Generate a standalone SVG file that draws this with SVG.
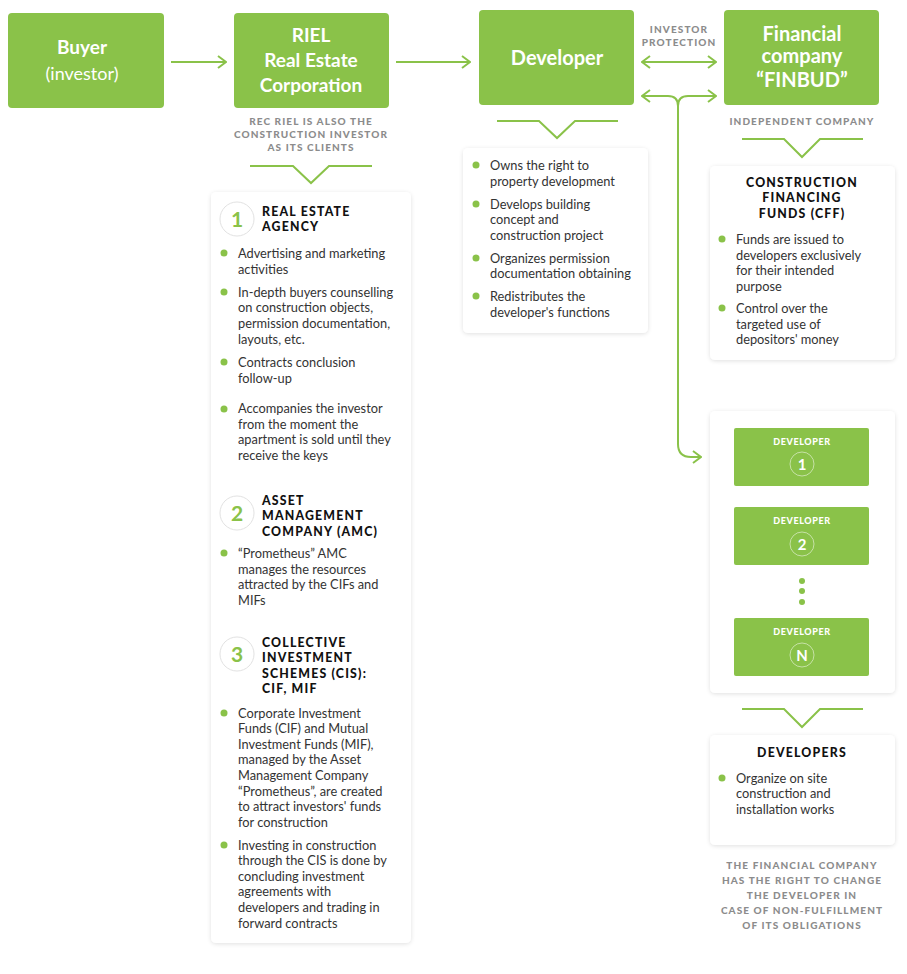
<svg xmlns="http://www.w3.org/2000/svg" width="907" height="974" viewBox="0 0 907 974">
<style>
.box{fill:#8ac249}
.card{fill:#fff;filter:url(#sh)}
.bt{font-family:Lato,"Liberation Sans",sans-serif;font-weight:bold;fill:#fff;text-anchor:middle}
.br{font-family:Lato,"Liberation Sans",sans-serif;fill:#fff;text-anchor:middle}
.note{font-family:Lato,"Liberation Sans",sans-serif;font-weight:900;font-size:10px;letter-spacing:1.1px;fill:#8c8c8c;text-anchor:middle}
.hd{font-family:Lato,"Liberation Sans",sans-serif;font-weight:900;font-size:12.3px;letter-spacing:1.2px;fill:#111}
.tx{font-family:Lato,"Liberation Sans",sans-serif;font-size:12.8px;fill:#333}
.dot{fill:#8ac249}
.num{font-family:Lato,"Liberation Sans",sans-serif;font-weight:bold;font-size:21px;fill:#8ac249;text-anchor:middle}
.nc{fill:#fff;stroke:#e2e2e2;stroke-width:1}
.con{fill:none;stroke:#8ac249;stroke-width:2}
.dv{font-family:Lato,"Liberation Sans",sans-serif;font-weight:900;font-size:9px;letter-spacing:0.6px;fill:#fff;text-anchor:middle}
.dn{font-family:Lato,"Liberation Sans",sans-serif;font-weight:bold;font-size:15px;fill:#fff;text-anchor:middle}
.dc{fill:none;stroke:#fff;stroke-opacity:0.5;stroke-width:1}
</style>
<defs>
<filter id="sh" x="-10%" y="-10%" width="120%" height="120%">
<feDropShadow dx="0" dy="1" stdDeviation="2" flood-color="#000" flood-opacity="0.12"/>
</filter>
<marker id="ah" viewBox="0 0 10 14" refX="9" refY="7" markerWidth="10" markerHeight="14" markerUnits="userSpaceOnUse" orient="auto-start-reverse">
<path d="M1,1 L9,7 L1,13" fill="none" stroke="#8ac249" stroke-width="2"/>
</marker>
</defs>
<rect width="907" height="974" fill="#fff"/>

<g id="connectors">
<line class="con" x1="171" y1="62" x2="226" y2="62" marker-end="url(#ah)"/>
<line class="con" x1="396" y1="62" x2="470" y2="62" marker-end="url(#ah)"/>
<line class="con" x1="642" y1="62" x2="716" y2="62" marker-start="url(#ah)" marker-end="url(#ah)"/>
<path class="con" d="M642,96 H668 Q678,96 678,106" marker-start="url(#ah)"/>
<path class="con" d="M716,96 H688 Q678,96 678,106" marker-start="url(#ah)"/>
<path class="con" d="M678,106 V444 Q678,457 691,457 H701" marker-end="url(#ah)"/>
<polyline class="con" points="250,166 293,166 311,183 329,166 372,166"/>
<polyline class="con" points="497,121 539,121 557,138 575,121 618,121"/>
<polyline class="con" points="742,139 784,139 802,157 820,139 863,139"/>
<polyline class="con" points="742,709 784,709 802,727 820,709 863,709"/>
</g>

<g id="buyer">
<rect class="box" x="8" y="13" width="156" height="95" rx="4"/>
<text class="bt" x="82" y="54" font-size="19">Buyer</text>
<text class="br" x="82" y="80" font-size="18">(investor)</text>
</g>

<g id="riel">
<rect class="box" x="234" y="13" width="155" height="95" rx="4"/>
<text class="bt" x="311" y="42" font-size="19">RIEL</text>
<text class="bt" x="311" y="67" font-size="19">Real Estate</text>
<text class="bt" x="311" y="92" font-size="19">Corporation</text>
</g>

<g id="developer">
<rect class="box" x="479" y="10" width="155" height="95" rx="4"/>
<text class="bt" x="557" y="65" font-size="20">Developer</text>
</g>

<g id="finbud">
<rect class="box" x="724" y="10" width="155" height="95" rx="4"/>
<text class="bt" x="802" y="41" font-size="20">Financial</text>
<text class="bt" x="802" y="63" font-size="20">company</text>
<text class="bt" x="802" y="87" font-size="20">“FINBUD”</text>
</g>

<g id="labels">
<text class="note" x="679" y="33">INVESTOR</text>
<text class="note" x="679" y="46">PROTECTION</text>
<text class="note" x="802" y="125">INDEPENDENT COMPANY</text>
<text class="note" x="311" y="125">REC RIEL IS ALSO THE</text>
<text class="note" x="311" y="138">CONSTRUCTION INVESTOR</text>
<text class="note" x="311" y="151">AS ITS CLIENTS</text>
<text class="note" x="802" y="869">THE FINANCIAL COMPANY</text>
<text class="note" x="802" y="884">HAS THE RIGHT TO CHANGE</text>
<text class="note" x="802" y="899">THE DEVELOPER IN</text>
<text class="note" x="802" y="914">CASE OF NON-FULFILLMENT</text>
<text class="note" x="802" y="929">OF ITS OBLIGATIONS</text>
</g>

<g id="riel-card">
<rect class="card" x="211" y="192" width="200" height="751" rx="5"/>
<circle class="nc" cx="237" cy="219" r="17"/>
<text class="num" x="237" y="226.5">1</text>
<text class="hd" x="262" y="215.5">REAL ESTATE</text>
<text class="hd" x="262" y="231">AGENCY</text>
<circle class="dot" cx="224" cy="253" r="3.5"/>
<text class="tx" x="238" y="257.5">Advertising and marketing</text>
<text class="tx" x="238" y="273.5">activities</text>
<circle class="dot" cx="224" cy="292" r="3.5"/>
<text class="tx" x="238" y="296.5">In-depth buyers counselling</text>
<text class="tx" x="238" y="312">on construction objects,</text>
<text class="tx" x="238" y="327.5">permission documentation,</text>
<text class="tx" x="238" y="343.5">layouts, etc.</text>
<circle class="dot" cx="224" cy="362" r="3.5"/>
<text class="tx" x="238" y="366.5">Contracts conclusion</text>
<text class="tx" x="238" y="382.5">follow-up</text>
<circle class="dot" cx="224" cy="409" r="3.5"/>
<text class="tx" x="238" y="412.5">Accompanies the investor</text>
<text class="tx" x="238" y="428.5">from the moment the</text>
<text class="tx" x="238" y="444">apartment is sold until they</text>
<text class="tx" x="238" y="459.5">receive the keys</text>

<circle class="nc" cx="237" cy="513" r="17"/>
<text class="num" x="237" y="520.5">2</text>
<text class="hd" x="262" y="504.5">ASSET</text>
<text class="hd" x="262" y="520">MANAGEMENT</text>
<text class="hd" x="262" y="535.5">COMPANY (AMC)</text>
<circle class="dot" cx="224" cy="553" r="3.5"/>
<text class="tx" x="238" y="557.5">“Prometheus” AMC</text>
<text class="tx" x="238" y="573.5">manages the resources</text>
<text class="tx" x="238" y="589">attracted by the CIFs and</text>
<text class="tx" x="238" y="604.5">MIFs</text>

<circle class="nc" cx="237" cy="654" r="17"/>
<text class="num" x="237" y="661.5">3</text>
<text class="hd" x="262" y="646.5">COLLECTIVE</text>
<text class="hd" x="262" y="662">INVESTMENT</text>
<text class="hd" x="262" y="677.5">SCHEMES (CIS):</text>
<text class="hd" x="262" y="693">CIF, MIF</text>
<circle class="dot" cx="224" cy="713" r="3.5"/>
<text class="tx" x="238" y="717.5">Corporate Investment</text>
<text class="tx" x="238" y="733">Funds (CIF) and Mutual</text>
<text class="tx" x="238" y="748.5">Investment Funds (MIF),</text>
<text class="tx" x="238" y="764">managed by the Asset</text>
<text class="tx" x="238" y="780">Management Company</text>
<text class="tx" x="238" y="795.5">“Prometheus”, are created</text>
<text class="tx" x="238" y="811">to attract investors' funds</text>
<text class="tx" x="238" y="826.5">for construction</text>
<circle class="dot" cx="224" cy="845" r="3.5"/>
<text class="tx" x="238" y="849.5">Investing in construction</text>
<text class="tx" x="238" y="865">through the CIS is done by</text>
<text class="tx" x="238" y="880.5">concluding investment</text>
<text class="tx" x="238" y="896">agreements with</text>
<text class="tx" x="238" y="912">developers and trading in</text>
<text class="tx" x="238" y="927.5">forward contracts</text>
</g>

<g id="developer-card">
<rect class="card" x="463" y="148" width="185" height="185" rx="5"/>
<circle class="dot" cx="476" cy="165" r="3.5"/>
<text class="tx" x="490" y="169.5">Owns the right to</text>
<text class="tx" x="490" y="185.5">property development</text>
<circle class="dot" cx="476" cy="204" r="3.5"/>
<text class="tx" x="490" y="208.5">Develops building</text>
<text class="tx" x="490" y="224">concept and</text>
<text class="tx" x="490" y="239.5">construction project</text>
<circle class="dot" cx="476" cy="258" r="3.5"/>
<text class="tx" x="490" y="262.5">Organizes permission</text>
<text class="tx" x="490" y="277.5">documentation obtaining</text>
<circle class="dot" cx="476" cy="296" r="3.5"/>
<text class="tx" x="490" y="300.5">Redistributes the</text>
<text class="tx" x="490" y="316.5">developer's functions</text>
</g>

<g id="cff-card">
<rect class="card" x="710" y="166" width="185" height="194" rx="5"/>
<text class="hd" x="802" y="186.5" text-anchor="middle">CONSTRUCTION</text>
<text class="hd" x="802" y="201.5" text-anchor="middle">FINANCING</text>
<text class="hd" x="802" y="217.5" text-anchor="middle">FUNDS (CFF)</text>
<circle class="dot" cx="722" cy="239" r="3.5"/>
<text class="tx" x="736" y="243.5">Funds are issued to</text>
<text class="tx" x="736" y="259.5">developers exclusively</text>
<text class="tx" x="736" y="274.5">for their intended</text>
<text class="tx" x="736" y="290.5">purpose</text>
<circle class="dot" cx="722" cy="308" r="3.5"/>
<text class="tx" x="736" y="312.5">Control over the</text>
<text class="tx" x="736" y="328.5">targeted use of</text>
<text class="tx" x="736" y="344">depositors' money</text>
</g>

<g id="developers-list">
<rect class="card" x="710" y="411" width="185" height="282" rx="5"/>
<rect class="box" x="734" y="428" width="135" height="58" rx="2"/>
<text class="dv" x="802" y="444.5">DEVELOPER</text>
<circle class="dc" cx="802" cy="464" r="12"/>
<text class="dn" x="802" y="469.5">1</text>
<rect class="box" x="734" y="507" width="135" height="58" rx="2"/>
<text class="dv" x="802" y="523.5">DEVELOPER</text>
<circle class="dc" cx="802" cy="544" r="12"/>
<text class="dn" x="802" y="549.5">2</text>
<circle class="dot" cx="802" cy="581" r="3"/>
<circle class="dot" cx="802" cy="591" r="3"/>
<circle class="dot" cx="802" cy="602" r="3"/>
<rect class="box" x="734" y="618" width="135" height="58" rx="2"/>
<text class="dv" x="802" y="634.5">DEVELOPER</text>
<circle class="dc" cx="802" cy="655" r="12"/>
<text class="dn" x="802" y="660.5">N</text>
</g>

<g id="developers-card">
<rect class="card" x="710" y="735" width="185" height="110" rx="5"/>
<text class="hd" x="802" y="757" text-anchor="middle" font-size="14">DEVELOPERS</text>
<circle class="dot" cx="722" cy="778" r="3.5"/>
<text class="tx" x="736" y="782.5">Organize on site</text>
<text class="tx" x="736" y="798">construction and</text>
<text class="tx" x="736" y="813.5">installation works</text>
</g>
</svg>
